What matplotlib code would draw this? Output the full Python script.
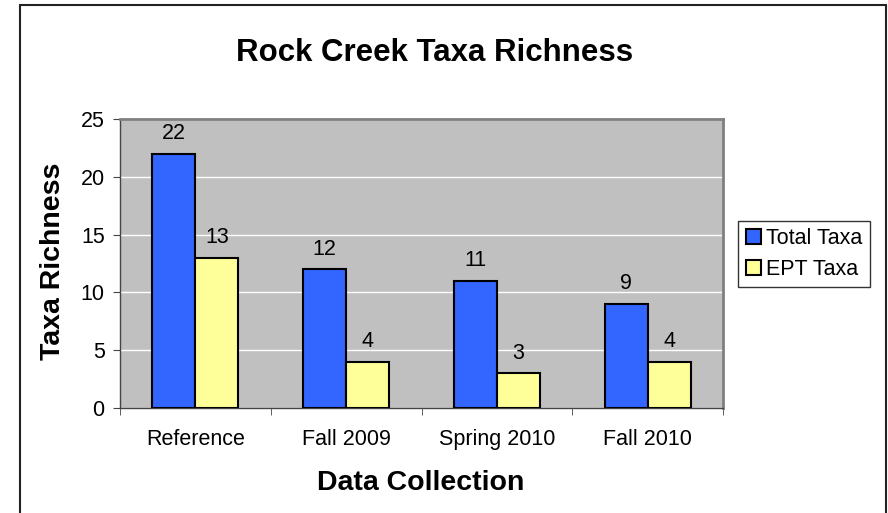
import matplotlib
matplotlib.use('Agg')
import matplotlib.pyplot as plt
from matplotlib.patches import Rectangle
import numpy as np

plt.rcParams['font.family'] = ['Liberation Sans', 'DejaVu Sans']

# data
categories = ['Reference', 'Fall 2009', 'Spring 2010', 'Fall 2010']
total_taxa = [22, 12, 11, 9]
ept_taxa = [13, 4, 3, 4]
series_names = ['Total Taxa', 'EPT Taxa']
y_ticks = [0, 5, 10, 15, 20, 25]

W, H = 888, 513
fig = plt.figure(figsize=(W / 100, H / 100), dpi=100)

# outer chart border
fig.patches.append(Rectangle((20 / W, -0.05), (886 - 20) / W, 1.05 - 5 / H,
                             transform=fig.transFigure, fill=False,
                             edgecolor='#222222', linewidth=1.5))

ax = fig.add_axes([120 / W, (H - 408) / H, (723 - 120) / W, (408 - 119) / H])
ax.set_facecolor('#C0C0C0')

x = np.arange(len(categories))
bw = 1 / 3.5
b1 = ax.bar(x - bw / 2, total_taxa, bw, color='#3366FF', edgecolor='black',
            linewidth=1.5, label=series_names[0], zorder=3)
b2 = ax.bar(x + bw / 2, ept_taxa, bw, color='#FFFF99', edgecolor='black',
            linewidth=1.5, label=series_names[1], zorder=3)

fs = 15.5
for bars, vals in ((b1, total_taxa), (b2, ept_taxa)):
    for rect, v in zip(bars, vals):
        ax.annotate(str(v), (rect.get_x() + rect.get_width() / 2, v),
                    xytext=(0, 7), textcoords='offset points',
                    ha='center', va='bottom', fontsize=fs)

ax.set_xlim(-0.5, len(categories) - 0.5)
ax.set_ylim(0, 25)
ax.set_yticks(y_ticks)
ax.yaxis.grid(True, color='white', linewidth=1, zorder=0)
ax.set_axisbelow(True)

ax.set_xticks(x)
ax.set_xticklabels(categories, fontsize=fs)
ax.set_xticks(np.arange(len(categories) + 1) - 0.5, minor=True)
ax.tick_params(axis='x', which='major', length=0, pad=15)
ax.tick_params(axis='x', which='minor', length=5, direction='out', color='#444444')
ax.tick_params(axis='y', length=5, direction='out', labelsize=fs, color='#444444', pad=6)

for s in ('top', 'right'):
    ax.spines[s].set_color('#808080')
    ax.spines[s].set_linewidth(2)
for s in ('left', 'bottom'):
    ax.spines[s].set_color('#444444')
    ax.spines[s].set_linewidth(1)

fig.text(435 / W, 1 - 53 / H, 'Rock Creek Taxa Richness', ha='center', va='center',
         fontsize=22.5, fontweight='bold')
fig.text(53 / W, 1 - 261 / H, 'Taxa Richness', ha='center', va='center',
         rotation=90, fontsize=20.5, fontweight='bold')
fig.text(421 / W, 1 - 483 / H, 'Data Collection', ha='center', va='center',
         fontsize=20.5, fontweight='bold')

leg = fig.legend(loc='center left', bbox_to_anchor=(738 / W, 1 - 254 / H),
                 fontsize=fs, frameon=True, fancybox=False, handlelength=0.7,
                 handleheight=0.7, handletextpad=0.25, borderpad=0.35,
                 labelspacing=0.45, borderaxespad=0)
leg.get_frame().set_edgecolor('black')
leg.get_frame().set_linewidth(1)

fig.savefig('out.png', dpi=100)
